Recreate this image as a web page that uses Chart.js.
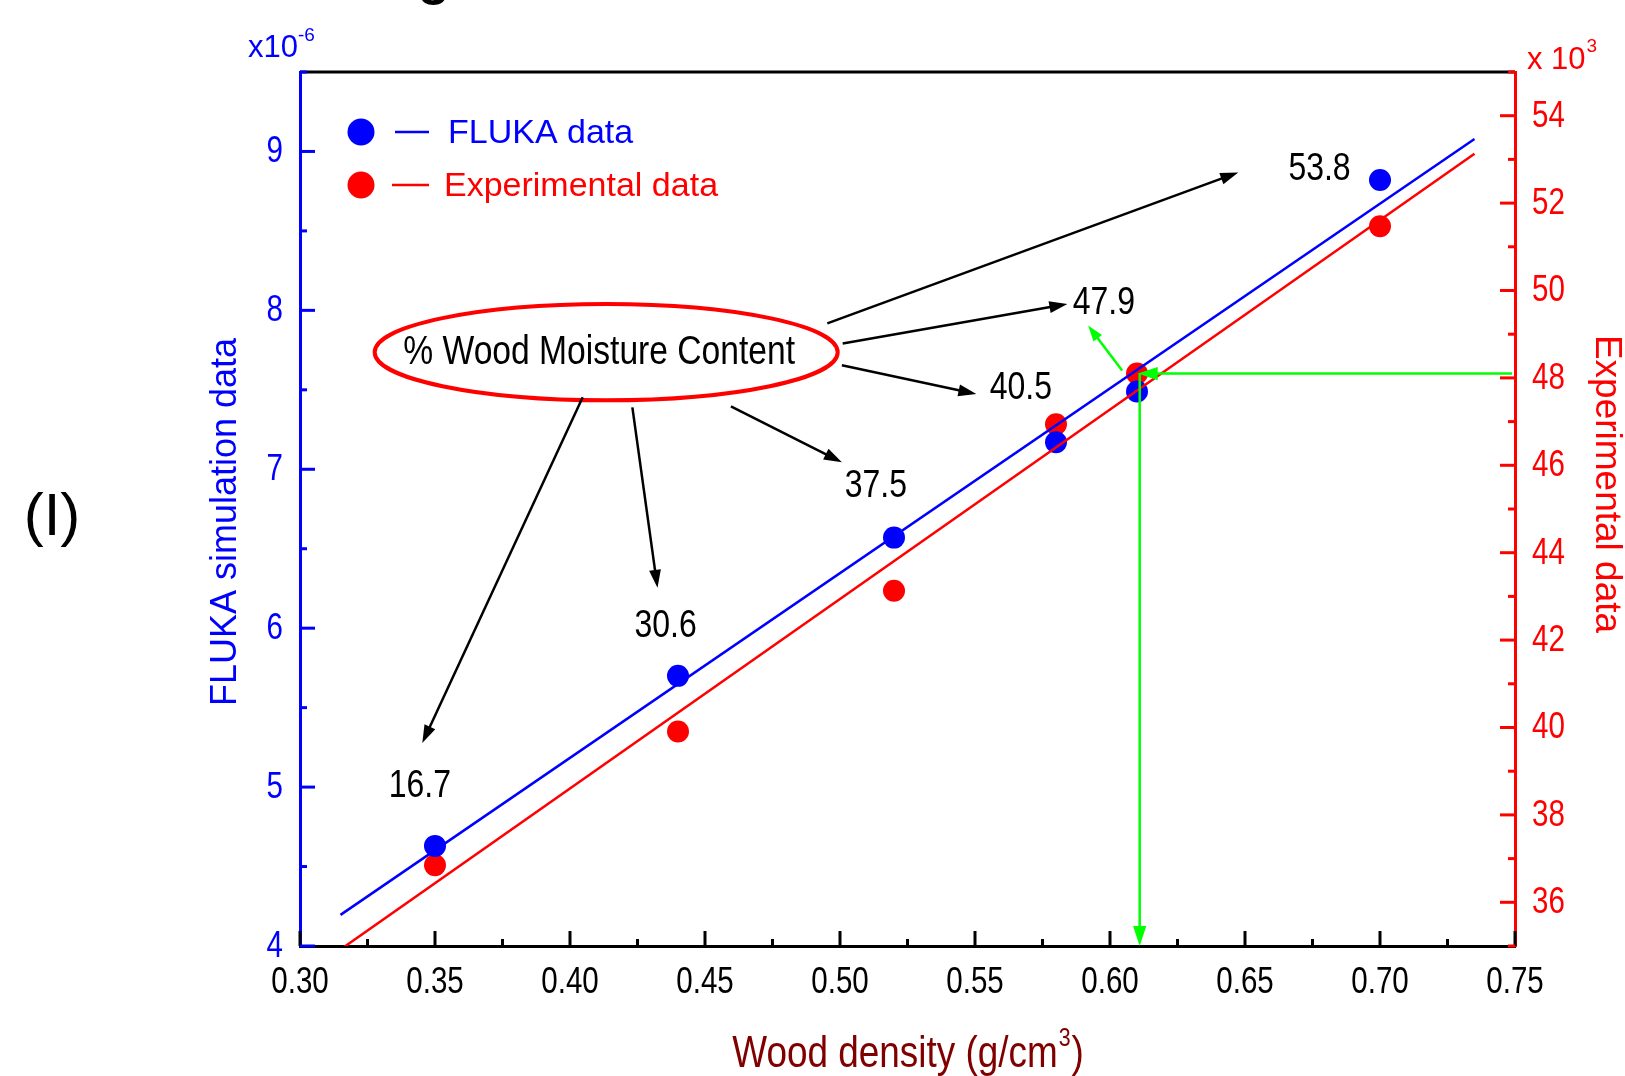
<!DOCTYPE html>
<html>
<head>
<meta charset="utf-8">
<script src="https://cdn.jsdelivr.net/npm/chart.js@4.4.1/dist/chart.umd.min.js"></script>
<style>
  html, body { margin: 0; padding: 0; background: #fff; }
  #wrap { width: 1625px; height: 1076px; }
</style>
</head>
<body>
<div id="wrap"><canvas id="chart" width="1625" height="1076"></canvas></div>
<script>
// wood density (g/cm3) of the samples
const density = [0.35, 0.44, 0.52, 0.58, 0.61, 0.70];
// FLUKA simulation data (x10^-6)
const fluka = [4.63, 5.70, 6.57, 7.17, 7.49, 8.82];
// experimental data (x10^3)
const experimental = [36.85, 39.91, 43.13, 46.94, 48.10, 51.47];

// linear fits (start / end)
const fitX = [0.315, 0.735];
const flukaFit = [4.196, 9.078];
const expFit = [34.92, 53.13];

// % wood moisture content labels, placed in (density, FLUKA) units
const moisture = ['16.7', '30.6', '37.5', '40.5', '47.9', '53.8'];
const moistX = [0.3444, 0.4354, 0.5133, 0.5670, 0.5977, 0.6776];
const moistY = [5.003, 6.013, 6.893, 7.512, 8.047, 8.887];
// arrows from the bubble to each label
const arrowFromX = [0.4047, 0.4231, 0.4596, 0.5007, 0.5010, 0.4953];
const arrowFromY = [7.453, 7.390, 7.396, 7.655, 7.792, 7.918];
const arrowToX = [0.3453, 0.4324, 0.5007, 0.5505, 0.5842, 0.6475];
const arrowToY = [5.277, 6.254, 7.044, 7.473, 8.040, 8.868];

// the bubble
const bubbleX = 0.4134, bubbleY = 7.737, bubbleRx = 0.08575, bubbleRy = 0.303;

// green read-off lines (density, experimental)
const readX = 0.611, readY = 48.1;
const pointerFrom = [0.6045, 48.17];
const pointerTo = [0.5919, 49.2];

const SANS = "'Liberation Sans', Arial, sans-serif";
const SQUEEZE = 0.82; // the original uses a condensed face
const BLUE = '#0000ff', RED = '#ff0000', GREEN = '#00ff00', MAROON = '#800000';

const near = (v, step) => Math.abs(v / step - Math.round(v / step)) < 1e-6;

// condensed text: regular face squeezed horizontally
function squeeze(ctx, text, x, y, size, align, baseline) {
    ctx.save();
    ctx.translate(x, y);
    ctx.scale(SQUEEZE, 1);
    ctx.font = `${size}px ${SANS}`;
    ctx.textAlign = align || 'center';
    ctx.textBaseline = baseline || 'middle';
    ctx.fillText(text, 0, 0);
    ctx.restore();
}

function squeezeWidth(ctx, text, size) {
    ctx.font = `${size}px ${SANS}`;
    return ctx.measureText(text).width * SQUEEZE;
}

function arrow(ctx, x1, y1, x2, y2, color, width, head) {
    const a = Math.atan2(y2 - y1, x2 - x1);
    const c = Math.cos(a), s = Math.sin(a);
    ctx.strokeStyle = color;
    ctx.fillStyle = color;
    ctx.lineWidth = width;
    ctx.beginPath();
    ctx.moveTo(x1, y1);
    ctx.lineTo(x2 - head * 0.8 * c, y2 - head * 0.8 * s);
    ctx.stroke();
    ctx.beginPath();
    ctx.moveTo(x2, y2);
    ctx.lineTo(x2 - head * c + head * 0.33 * s, y2 - head * s - head * 0.33 * c);
    ctx.lineTo(x2 - head * c - head * 0.33 * s, y2 - head * s + head * 0.33 * c);
    ctx.closePath();
    ctx.fill();
}

const ink = {
    id: 'ink',
    afterDatasetsDraw(chart) {
        const ctx = chart.ctx;
        const { x, y2 } = chart.scales;
        const px = x.getPixelForValue(readX);
        const py = y2.getPixelForValue(readY);
        ctx.save();
        // vertical drop to the density axis
        arrow(ctx, px, py, px, chart.chartArea.bottom, GREEN, 2.5, 20);
        // horizontal line from the experimental axis
        arrow(ctx, chart.chartArea.right - 3, py, px - 2, py, GREEN, 2.5, 20);
        // small pointer
        arrow(ctx, x.getPixelForValue(pointerFrom[0]), y2.getPixelForValue(pointerFrom[1]),
            x.getPixelForValue(pointerTo[0]), y2.getPixelForValue(pointerTo[1]), GREEN, 2.5, 16);
        ctx.restore();
    },
    afterDraw(chart) {
        const ctx = chart.ctx;
        const ca = chart.chartArea;
        const { x, y, y2 } = chart.scales;
        ctx.save();

        // top frame
        ctx.strokeStyle = '#000';
        ctx.lineWidth = 3;
        ctx.beginPath();
        ctx.moveTo(ca.left, ca.top);
        ctx.lineTo(ca.right, ca.top);
        ctx.stroke();

        // inward tick marks and condensed tick labels
        ctx.lineWidth = 3;
        ctx.strokeStyle = '#000';
        ctx.fillStyle = '#000';
        x.ticks.forEach(t => {
            const p = x.getPixelForValue(t.value);
            const len = t.label !== '' ? 15 : 7;
            ctx.beginPath();
            ctx.moveTo(p, ca.bottom);
            ctx.lineTo(p, ca.bottom - len);
            ctx.stroke();
            if (t.label !== '') squeeze(ctx, t.label, p, ca.bottom + 37, 36, 'center');
        });
        ctx.strokeStyle = BLUE;
        ctx.fillStyle = BLUE;
        y.ticks.forEach(t => {
            const p = y.getPixelForValue(t.value);
            const len = t.label !== '' ? 15 : 7;
            ctx.beginPath();
            ctx.moveTo(ca.left, p);
            ctx.lineTo(ca.left + len, p);
            ctx.stroke();
            if (t.label !== '') squeeze(ctx, t.label, ca.left - 17, p + 1, 36, 'right');
        });
        ctx.strokeStyle = RED;
        ctx.fillStyle = RED;
        y2.ticks.forEach(t => {
            const p = y2.getPixelForValue(t.value);
            const len = t.label !== '' ? 15 : 7;
            ctx.beginPath();
            ctx.moveTo(ca.right, p);
            ctx.lineTo(ca.right - len, p);
            ctx.stroke();
            if (t.label !== '') squeeze(ctx, t.label, ca.right + 17, p + 1, 36, 'left');
        });

        // axis titles
        ctx.textBaseline = 'middle';
        ctx.textAlign = 'center';
        ctx.fillStyle = BLUE;
        ctx.font = `36px ${SANS}`;
        ctx.save();
        ctx.translate(226, 522);
        ctx.rotate(-Math.PI / 2);
        ctx.fillText('FLUKA simulation data', 0, 0);
        ctx.restore();

        ctx.fillStyle = RED;
        ctx.font = `37px ${SANS}`;
        ctx.save();
        ctx.translate(1606, 484);
        ctx.rotate(Math.PI / 2);
        ctx.fillText('Experimental data', 0, 0);
        ctx.restore();

        // x title with superscript
        ctx.fillStyle = MAROON;
        const main = 'Wood density (g/cm';
        const w1 = squeezeWidth(ctx, main, 45);
        const w2 = squeezeWidth(ctx, '3', 26);
        const w3 = squeezeWidth(ctx, ')', 45);
        const tx = 907 - (w1 + w2 + w3) / 2;
        squeeze(ctx, main, tx, 1067, 45, 'left', 'alphabetic');
        squeeze(ctx, '3', tx + w1 + 1, 1046, 26, 'left', 'alphabetic');
        squeeze(ctx, ')', tx + w1 + w2 + 2, 1067, 45, 'left', 'alphabetic');

        // axis multipliers
        ctx.textAlign = 'left';
        ctx.textBaseline = 'alphabetic';
        ctx.fillStyle = BLUE;
        ctx.font = `31px ${SANS}`;
        ctx.fillText('x10', 248, 57);
        const wm = ctx.measureText('x10').width;
        ctx.font = `19px ${SANS}`;
        ctx.fillText('-6', 248 + wm, 41);

        ctx.fillStyle = RED;
        ctx.font = `31px ${SANS}`;
        ctx.fillText('x 10', 1527, 69);
        const wr = ctx.measureText('x 10').width;
        ctx.font = `19px ${SANS}`;
        ctx.fillText('3', 1527 + wr + 1, 52);

        // panel label and clipped heading
        ctx.fillStyle = '#000';
        ctx.font = `60px ${SANS}`;
        ctx.textAlign = 'center';
        ctx.textBaseline = 'middle';
        ctx.fillText('(I)', 52, 518);
        ctx.font = `bold 52px ${SANS}`;
        ctx.textBaseline = 'alphabetic';
        ctx.fillText('g', 434, -6);

        // legend
        const lx = ca.left + 61;
        ctx.textAlign = 'left';
        ctx.textBaseline = 'middle';
        [[BLUE, 'FLUKA data', 60, 395, 448], [RED, 'Experimental data', 113, 392, 444]].forEach(([c, label, dy, l0, t0]) => {
            const cy = ca.top + dy;
            ctx.fillStyle = c;
            ctx.beginPath();
            ctx.arc(lx, cy, 13.5, 0, Math.PI * 2);
            ctx.fill();
            ctx.strokeStyle = c;
            ctx.lineWidth = 2.5;
            ctx.beginPath();
            ctx.moveTo(l0, cy);
            ctx.lineTo(429, cy);
            ctx.stroke();
            ctx.font = `34px ${SANS}`;
            ctx.fillText(label, t0, cy + 2);
        });

        // moisture bubble
        const bx = x.getPixelForValue(bubbleX);
        const by = y.getPixelForValue(bubbleY);
        const rx = x.getPixelForValue(bubbleX + bubbleRx) - bx;
        const ry = by - y.getPixelForValue(bubbleY + bubbleRy);
        ctx.strokeStyle = RED;
        ctx.lineWidth = 4;
        ctx.beginPath();
        ctx.ellipse(bx, by, rx, ry, 0, 0, Math.PI * 2);
        ctx.stroke();
        ctx.fillStyle = '#000';
        squeeze(ctx, '% Wood Moisture Content', bx - 7, by + 1, 41, 'center');

        // arrows and labels
        moisture.forEach((m, i) => {
            arrow(ctx, x.getPixelForValue(arrowFromX[i]), y.getPixelForValue(arrowFromY[i]),
                x.getPixelForValue(arrowToX[i]), y.getPixelForValue(arrowToY[i]), '#000', 2.5, 18);
            ctx.fillStyle = '#000';
            squeeze(ctx, m, x.getPixelForValue(moistX[i]), y.getPixelForValue(moistY[i]), 39, 'center');
        });

        ctx.restore();
    }
};

new Chart(document.getElementById('chart'), {
    type: 'scatter',
    data: {
        datasets: [
            {
                label: 'FLUKA fit',
                data: fitX.map((v, i) => ({ x: v, y: flukaFit[i] })),
                yAxisID: 'y',
                showLine: true,
                borderColor: BLUE,
                borderWidth: 2.5,
                pointRadius: 0,
                order: 0
            },
            {
                label: 'Experimental fit',
                data: fitX.map((v, i) => ({ x: v, y: expFit[i] })),
                yAxisID: 'y2',
                showLine: true,
                borderColor: RED,
                borderWidth: 2.5,
                pointRadius: 0,
                order: 1
            },
            {
                label: 'FLUKA data',
                data: density.map((v, i) => ({ x: v, y: fluka[i] })),
                yAxisID: 'y',
                backgroundColor: BLUE,
                borderWidth: 0,
                pointRadius: 11,
                pointHoverRadius: 11,
                order: 2
            },
            {
                label: 'Experimental data',
                data: density.map((v, i) => ({ x: v, y: experimental[i] })),
                yAxisID: 'y2',
                backgroundColor: RED,
                borderWidth: 0,
                pointRadius: 11,
                pointHoverRadius: 11,
                order: 3
            }
        ]
    },
    options: {
        responsive: false,
        animation: false,
        events: [],
        layout: { padding: { top: 72, left: 0, right: 0, bottom: 0 } },
        plugins: { legend: { display: false }, tooltip: { enabled: false } },
        scales: {
            x: {
                type: 'linear',
                min: 0.30,
                max: 0.75,
                border: { color: '#000', width: 3 },
                grid: { display: false, drawTicks: false },
                ticks: {
                    display: false,
                    stepSize: 0.025,
                    autoSkip: false,
                    callback: v => near(v, 0.05) ? v.toFixed(2) : ''
                },
                afterFit: s => { s.height = 130; }
            },
            y: {
                type: 'linear',
                position: 'left',
                min: 4,
                max: 9.5,
                border: { color: BLUE, width: 3 },
                grid: { display: false, drawTicks: false },
                ticks: {
                    display: false,
                    stepSize: 0.5,
                    autoSkip: false,
                    callback: v => near(v, 1) ? String(Math.round(v)) : ''
                },
                afterFit: s => { s.width = 300; }
            },
            y2: {
                type: 'linear',
                position: 'right',
                min: 35,
                max: 55,
                border: { color: RED, width: 3 },
                grid: { display: false, drawTicks: false },
                ticks: {
                    display: false,
                    stepSize: 1,
                    autoSkip: false,
                    callback: v => near(v, 2) ? String(Math.round(v)) : ''
                },
                afterFit: s => { s.width = 110; }
            }
        }
    },
    plugins: [ink]
});
</script>
</body>
</html>
